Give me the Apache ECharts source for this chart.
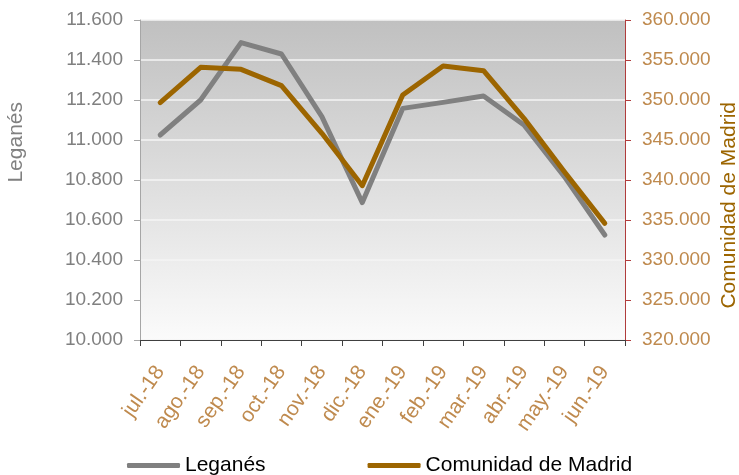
<!DOCTYPE html>
<html>
<head>
<meta charset="utf-8">
<script src="https://cdn.jsdelivr.net/npm/echarts@6/dist/echarts.min.js"></script>
<style>
  html, body { margin: 0; padding: 0; background: #ffffff; }
  #chart { width: 739px; height: 475px; }
</style>
</head>
<body>
<div id="chart"></div>
<script>
// Monthly series, July 2018 to June 2019
const months = ['jul.-18', 'ago.-18', 'sep.-18', 'oct.-18', 'nov.-18', 'dic.-18',
                'ene.-19', 'feb.-19', 'mar.-19', 'abr.-19', 'may.-19', 'jun.-19'];
const leganes = [11025, 11200, 11487, 11430, 11117, 10687, 11158, 11188, 11220, 11075, 10817, 10525];
const madrid = [349667, 354083, 353833, 351792, 345833, 339292, 350625, 354250, 353667, 347708, 341042, 334583];

const leftTitle = 'Leganés';
const rightTitle = 'Comunidad de Madrid';

const FONT = '"Liberation Sans", Arial, sans-serif';
const GRAY = '#808080';
const GOLD = '#9c6500';
const LABEL_GOLD = '#bf8a4e';

// Thousands with a dot separator: 11600 -> "11.600"
function dotThousands(v) {
  return String(Math.round(v)).replace(/\B(?=(\d{3})+(?!\d))/g, '.');
}

const chart = echarts.init(document.getElementById('chart'), null, { renderer: 'canvas' });

chart.setOption({
  animation: false,
  backgroundColor: '#ffffff',
  textStyle: { fontFamily: FONT },
  grid: {
    left: 140, right: 114, top: 20, bottom: 135,
    show: true,
    borderWidth: 0,
    backgroundColor: new echarts.graphic.LinearGradient(0, 0, 0, 1, [
      { offset: 0, color: '#c0c0c0' },
      { offset: 1, color: '#fbfbfb' }
    ])
  },
  legend: {
    left: 122, top: 450,
    itemWidth: 53, itemHeight: 5,
    itemGap: 102,
    icon: 'roundRect',
    textStyle: { fontFamily: FONT, fontSize: 21, color: '#000000' },
    data: [
      { name: leftTitle, itemStyle: { color: GRAY } },
      { name: rightTitle, itemStyle: { color: GOLD } }
    ]
  },
  xAxis: {
    type: 'category',
    data: months,
    boundaryGap: true,
    axisLine: { lineStyle: { color: '#404040', width: 1 } },
    axisTick: { show: true, length: 6, lineStyle: { color: '#404040' } },
    axisLabel: {
      rotate: 55, margin: 28, color: LABEL_GOLD,
      fontFamily: FONT, fontSize: 21, interval: 0
    },
    splitLine: { show: false }
  },
  yAxis: [
    {
      type: 'value', position: 'left',
      min: 10000, max: 11600, interval: 200,
      axisLine: { show: true, lineStyle: { color: '#a6a6a6', width: 1 } },
      axisTick: { show: true, length: 6, lineStyle: { color: '#a6a6a6' } },
      axisLabel: {
        color: GRAY, fontFamily: FONT, fontSize: 19, margin: 17,
        formatter: dotThousands
      },
      splitLine: { show: true, lineStyle: { color: '#f4f4f4', width: 1.5 } }
    },
    {
      type: 'value', position: 'right',
      min: 320000, max: 360000, interval: 5000,
      axisLine: { show: true, lineStyle: { color: '#b03c3c', width: 1 } },
      axisTick: { show: true, length: 6, lineStyle: { color: '#b03c3c' } },
      axisLabel: {
        color: LABEL_GOLD, fontFamily: FONT, fontSize: 19, margin: 17,
        formatter: dotThousands
      },
      splitLine: { show: false }
    }
  ],
  graphic: [
    {
      type: 'text', left: 6, top: 102, rotation: Math.PI / 2,
      style: { text: leftTitle, fill: GRAY, font: '21px ' + FONT }
    },
    {
      type: 'text', left: 719, top: 102, rotation: Math.PI / 2,
      style: { text: rightTitle, fill: GOLD, font: '21px ' + FONT }
    }
  ],
  series: [
    {
      name: leftTitle, type: 'line', yAxisIndex: 0,
      data: leganes, symbol: 'none', z: 2,
      lineStyle: { color: GRAY, width: 5, cap: 'round', join: 'round' },
      itemStyle: { color: GRAY }
    },
    {
      name: rightTitle, type: 'line', yAxisIndex: 1,
      data: madrid, symbol: 'none', z: 3,
      lineStyle: { color: GOLD, width: 5, cap: 'round', join: 'round' },
      itemStyle: { color: GOLD }
    }
  ]
});
</script>
</body>
</html>
